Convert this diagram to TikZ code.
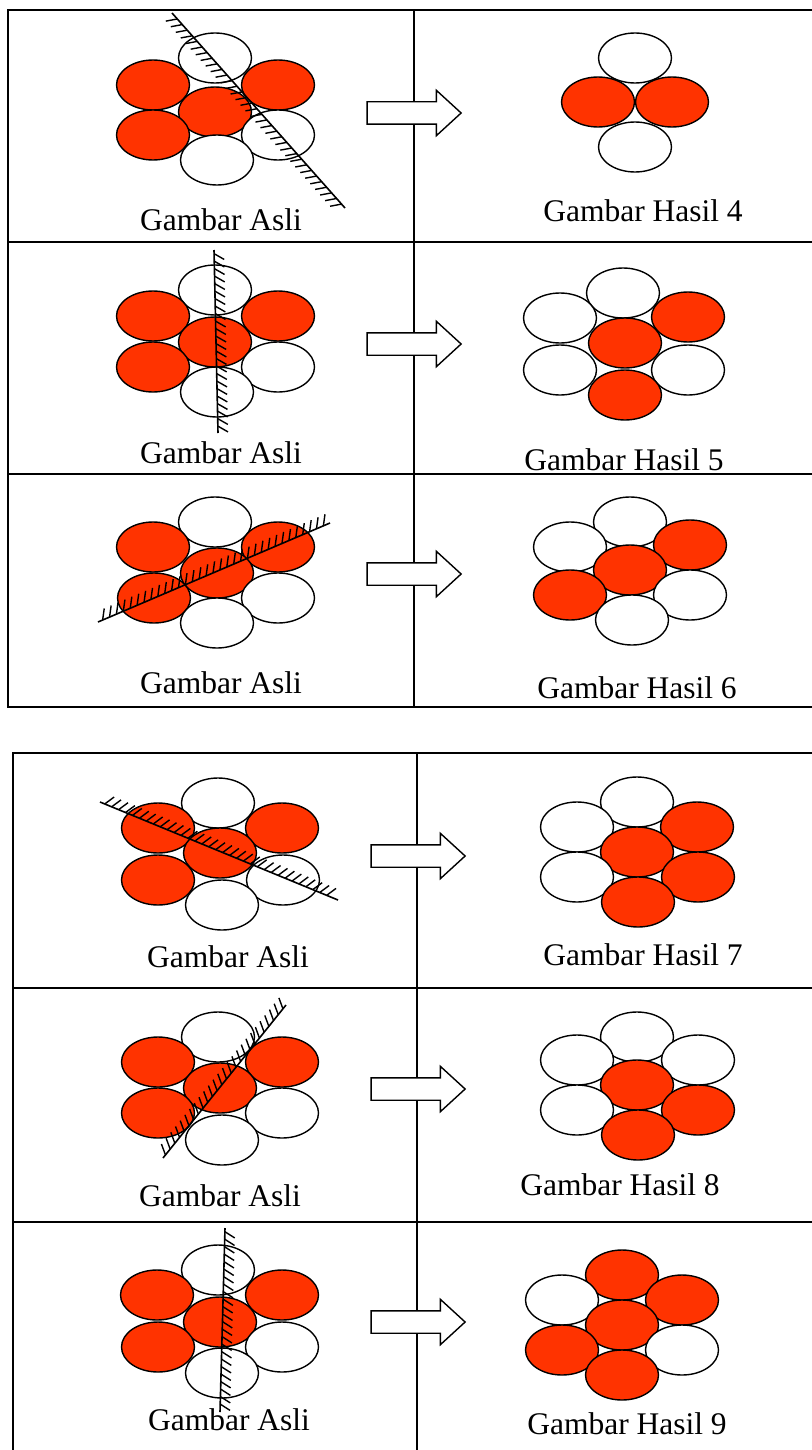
\documentclass[tikz,border=0pt]{standalone}
\usepackage{fontspec}
\setmainfont{Liberation Serif}
\usetikzlibrary{shapes.geometric,shapes.arrows,decorations.markings}
\definecolor{CellRed}{RGB}{255,51,0}
\newcommand{\capfont}{\fontsize{31.5}{36}\selectfont}
\tikzset{
  redcell/.style={ellipse,draw=black,fill=CellRed,line width=1.4pt,minimum width=73pt,minimum height=50pt,inner sep=0pt},
  whitecell/.style={ellipse,draw=black,fill=white,line width=1.4pt,minimum width=73pt,minimum height=50pt,inner sep=0pt},
  caption/.style={font=\capfont,anchor=base,inner sep=0pt},
  gridline/.style={line width=1.6pt,line cap=rect},
  blockarrow/.style={single arrow,draw=black,fill=white,line width=1.4pt,minimum height=94pt,minimum width=44pt,
    text height=10.5pt,text depth=10.5pt,inner sep=0pt,single arrow head extend=11.5pt,single arrow tip angle=85},
  cutline/.style={line width=1.6pt,postaction={decorate},
    decoration={markings,mark=between positions 0.02 and 0.98 step 7.5pt with {\draw[line width=1.4pt] (0pt,0pt) -- (6pt,10pt);}}}
}
\begin{document}
\begin{tikzpicture}[x=1pt,y=-1pt]
\useasboundingbox (0,0) rectangle (811,1450);
% upper table
\draw[gridline] (8,10) -- (811,10);
\draw[gridline] (8,242) -- (811,242);
\draw[gridline] (8,474) -- (811,474);
\draw[gridline] (8,707) -- (811,707);
\draw[gridline] (8,10) -- (8,707);
\draw[gridline] (414,10) -- (414,707);
% lower table
\draw[gridline] (13,753) -- (811,753);
\draw[gridline] (13,988) -- (811,988);
\draw[gridline] (13,1222) -- (811,1222);
\draw[gridline] (13,753) -- (13,1452);
\draw[gridline] (417,753) -- (417,1452);

% row 1
\node[whitecell] (o1t) at (215,58) {};
\node[redcell] (o1lu) at (153,85) {};
\node[redcell] (o1ru) at (278,85) {};
\node[redcell] (o1c) at (215,112) {};
\node[redcell] (o1ll) at (153,135) {};
\node[whitecell] (o1rl) at (278,135) {};
\node[whitecell] (o1b) at (217,160) {};
\coordinate (o1s) at (345,208);
\coordinate (o1e) at (172,13);
\draw[cutline] (o1s) -- (o1e);
\node[caption] (o1cap) at (221,230) {Gambar Asli};
\node[blockarrow] (a1) at (408,113) {};
\node[whitecell] (h4t) at (635,58) {};
\node[redcell] (h4l) at (598,102) {};
\node[redcell] (h4r) at (672,102) {};
\node[whitecell] (h4b) at (635,147) {};
\node[caption] (h4cap) at (643,222) {Gambar Hasil 4};

% row 2
\node[whitecell] (o2t) at (215,290) {};
\node[redcell] (o2lu) at (153,316) {};
\node[redcell] (o2ru) at (278,316) {};
\node[redcell] (o2c) at (215,342) {};
\node[redcell] (o2ll) at (153,367) {};
\node[whitecell] (o2rl) at (278,367) {};
\node[whitecell] (o2b) at (217,392) {};
\coordinate (o2s) at (214,250);
\coordinate (o2e) at (218,433);
\draw[cutline] (o2s) -- (o2e);
\node[caption] (o2cap) at (221,463) {Gambar Asli};
\node[blockarrow] (a2) at (408,344) {};
\node[whitecell] (h5t) at (623,293) {};
\node[whitecell] (h5lu) at (560,318) {};
\node[redcell] (h5ru) at (688,317) {};
\node[redcell] (h5c) at (625,343) {};
\node[whitecell] (h5ll) at (560,370) {};
\node[whitecell] (h5rl) at (688,370) {};
\node[redcell] (h5b) at (625,395) {};
\node[caption] (h5cap) at (624,470) {Gambar Hasil 5};

% row 3
\node[whitecell] (o3t) at (215,522) {};
\node[redcell] (o3lu) at (153,547) {};
\node[redcell] (o3ru) at (278,547) {};
\node[redcell] (o3c) at (217,573) {};
\node[redcell] (o3ll) at (154,598) {};
\node[whitecell] (o3rl) at (278,598) {};
\node[whitecell] (o3b) at (217,623) {};
\coordinate (o3s) at (98,622);
\coordinate (o3e) at (330,523);
\draw[cutline] (o3s) -- (o3e);
\node[caption] (o3cap) at (221,693) {Gambar Asli};
\node[blockarrow] (a3) at (408,574) {};
\node[whitecell] (h6t) at (630,522) {};
\node[whitecell] (h6lu) at (570,547) {};
\node[redcell] (h6ru) at (690,545) {};
\node[redcell] (h6c) at (630,570) {};
\node[redcell] (h6ll) at (570,595) {};
\node[whitecell] (h6rl) at (690,595) {};
\node[whitecell] (h6b) at (632,620) {};
\node[caption] (h6cap) at (637,698) {Gambar Hasil 6};

% row 4
\node[whitecell] (o4t) at (218,803) {};
\node[redcell] (o4lu) at (158,828) {};
\node[redcell] (o4ru) at (282,828) {};
\node[redcell] (o4c) at (220,853) {};
\node[redcell] (o4ll) at (158,880) {};
\node[whitecell] (o4rl) at (283,880) {};
\node[whitecell] (o4b) at (222,905) {};
\coordinate (o4s) at (100,802);
\coordinate (o4e) at (338,900);
\draw[cutline] (o4s) -- (o4e);
\node[caption] (o4cap) at (228,967) {Gambar Asli};
\node[blockarrow] (a4) at (412,856) {};
\node[whitecell] (h7t) at (637,802) {};
\node[whitecell] (h7lu) at (577,827) {};
\node[redcell] (h7ru) at (697,827) {};
\node[redcell] (h7c) at (637,852) {};
\node[whitecell] (h7ll) at (577,877) {};
\node[redcell] (h7rl) at (698,877) {};
\node[redcell] (h7b) at (638,902) {};
\node[caption] (h7cap) at (643,965) {Gambar Hasil 7};

% row 5
\node[whitecell] (o5t) at (218,1037) {};
\node[redcell] (o5lu) at (158,1062) {};
\node[redcell] (o5ru) at (282,1062) {};
\node[redcell] (o5c) at (220,1088) {};
\node[redcell] (o5ll) at (158,1113) {};
\node[whitecell] (o5rl) at (282,1113) {};
\node[whitecell] (o5b) at (222,1140) {};
\coordinate (o5s) at (163,1158);
\coordinate (o5e) at (286,1005);
\draw[cutline] (o5s) -- (o5e);
\node[caption] (o5cap) at (220,1206) {Gambar Asli};
\node[blockarrow] (a5) at (412,1089) {};
\node[whitecell] (h8t) at (637,1037) {};
\node[whitecell] (h8lu) at (577,1060) {};
\node[whitecell] (h8ru) at (698,1060) {};
\node[redcell] (h8c) at (637,1085) {};
\node[whitecell] (h8ll) at (577,1110) {};
\node[redcell] (h8rl) at (698,1110) {};
\node[redcell] (h8b) at (638,1135) {};
\node[caption] (h8cap) at (620,1195) {Gambar Hasil 8};

% row 6
\node[whitecell] (o6t) at (218,1270) {};
\node[redcell] (o6lu) at (157,1295) {};
\node[redcell] (o6ru) at (282,1295) {};
\node[redcell] (o6c) at (220,1322) {};
\node[redcell] (o6ll) at (158,1347) {};
\node[whitecell] (o6rl) at (282,1347) {};
\node[whitecell] (o6b) at (222,1373) {};
\coordinate (o6s) at (225,1228);
\coordinate (o6e) at (220,1412);
\draw[cutline] (o6s) -- (o6e);
\node[caption] (o6cap) at (229,1430) {Gambar Asli};
\node[blockarrow] (a6) at (412,1322) {};
\node[redcell] (h9t) at (622,1275) {};
\node[whitecell] (h9lu) at (562,1300) {};
\node[redcell] (h9ru) at (682,1300) {};
\node[redcell] (h9c) at (622,1325) {};
\node[redcell] (h9ll) at (562,1350) {};
\node[whitecell] (h9rl) at (682,1350) {};
\node[redcell] (h9b) at (622,1375) {};
\node[caption] (h9cap) at (627,1434) {Gambar Hasil 9};
\end{tikzpicture}
\end{document}
